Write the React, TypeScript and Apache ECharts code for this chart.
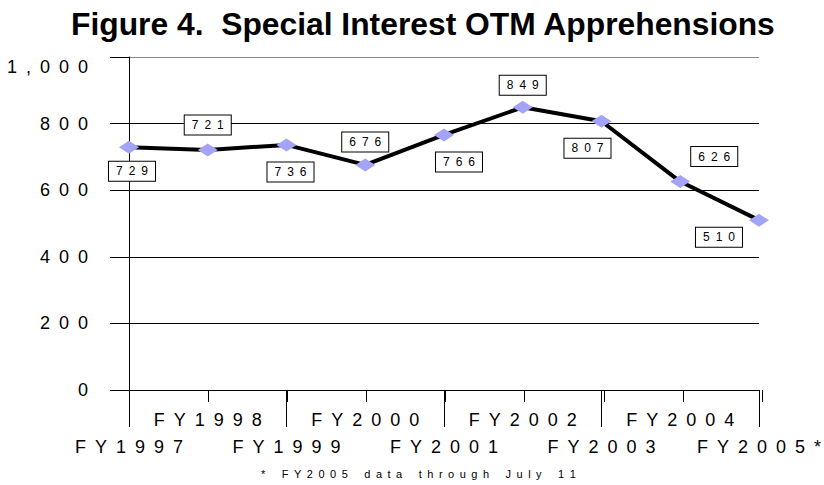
import React, { useEffect, useRef } from "react";
import * as echarts from "echarts";

const SP = "\u2002";
const spaced = (s: string) => s.split("").join(SP);

const categories = ["FY1997", "FY1998", "FY1999", "FY2000", "FY2001", "FY2002", "FY2003", "FY2004", "FY2005*"];
const values = [729, 721, 736, 676, 766, 849, 807, 626, 510];
const labelOffsets: [number, number][] = [
  [3, 24], [0, -25], [4, 27], [0, -23], [15, 27], [0, -22], [-14, 27], [34, -25], [-40, 17],
];
const titleText = "Figure 4.  Special Interest OTM Apprehensions";
const footnote = "* FY2005 data through July 11";

const FONT = '"Liberation Sans", Arial, sans-serif';

export default function App() {
  const ref = useRef<HTMLDivElement>(null);
  useEffect(() => {
    if (!ref.current) return;
    const chart = echarts.init(ref.current, null, { renderer: "svg" });
    const grid = { left: 129, right: 62, top: 57, bottom: 95 };
    chart.setOption({
      animation: false,
      backgroundColor: "#fff",
      title: [
        {
          text: titleText,
          left: 66,
          top: 3,
          textStyle: { fontFamily: FONT, fontSize: 31.8, fontWeight: "bold", color: "#000" },
        },
        {
          text: spaced(footnote).replace(/\u2002 \u2002/g, SP + SP + SP),
          left: 256,
          top: 463,
          textStyle: { fontFamily: FONT, fontSize: 11, fontWeight: "normal", color: "#000" },
        },
      ],
      grid: [grid, grid],
      xAxis: [
        {
          type: "category",
          gridIndex: 0,
          data: categories,
          boundaryGap: false,
          axisLine: { show: true, lineStyle: { color: "#000", width: 1 } },
          axisTick: {
            show: true,
            length: 37,
            interval: (i: number) => i % 2 === 0,
            lineStyle: { color: "#000", width: 1 },
          },
          axisLabel: {
            interval: 0,
            margin: 21,
            fontFamily: FONT,
            fontSize: 18,
            color: "#000",
            formatter: (v: string, i: number) =>
              i % 2 === 0 ? "{l|" + spaced(v) + "}" : "{u|" + spaced(v) + "}",
            rich: {
              u: { fontFamily: FONT, fontSize: 18, color: "#000" },
              l: { fontFamily: FONT, fontSize: 18, color: "#000", padding: [27, 0, 0, 0] },
            },
          },
          splitLine: { show: false },
        },
        {
          type: "category",
          gridIndex: 1,
          data: categories,
          boundaryGap: false,
          axisLine: { show: false },
          axisTick: {
            show: true,
            length: 12,
            interval: 0,
            lineStyle: { color: "#000", width: 1 },
          },
          axisLabel: { show: false },
          splitLine: { show: false },
        },
      ],
      yAxis: [
        {
          type: "value",
          gridIndex: 0,
          min: 0,
          max: 1000,
          interval: 200,
          axisLine: { show: true, lineStyle: { color: "#000", width: 1 } },
          axisTick: { show: true, length: 19, lineStyle: { color: "#000", width: 1 } },
          axisLabel: {
            margin: 41,
            fontFamily: FONT,
            fontSize: 18,
            color: "#000",
            formatter: (v: number) => {
              const s = spaced(v.toLocaleString("en-US"));
              return v === 1000 ? "{t|" + s + "}" : s;
            },
            rich: {
              t: { fontFamily: FONT, fontSize: 18, color: "#000", padding: [20, 0, 0, 0] },
            },
          },
          splitLine: {
            show: true,
            lineStyle: { color: ["#000", "#000", "#000", "#000", "#000", "#888"], width: 1 },
          },
        },
        {
          type: "value",
          gridIndex: 1,
          min: 0,
          max: 1000,
          show: false,
        },
      ],
      series: [
        {
          type: "line",
          xAxisIndex: 0,
          yAxisIndex: 0,
          data: values.map((v, i) => ({
            value: v,
            label: { offset: labelOffsets[i] },
          })),
          lineStyle: { color: "#000", width: 4 },
          symbol: "diamond",
          symbolSize: [20, 13],
          itemStyle: { color: "#a3a3f7", borderWidth: 0 },
          label: {
            show: true,
            position: "inside",
            formatter: (p: any) => spaced(String(p.value)),
            fontFamily: FONT,
            fontSize: 12,
            color: "#000",
            backgroundColor: "#fff",
            borderColor: "#000",
            borderWidth: 1,
            padding: [4, 7, 3, 7],
          },
          z: 5,
        },
      ],
    });
    return () => chart.dispose();
  }, []);
  return <div ref={ref} style={{ width: 824, height: 485, position: "absolute", left: 0, top: 0 }} />;
}
